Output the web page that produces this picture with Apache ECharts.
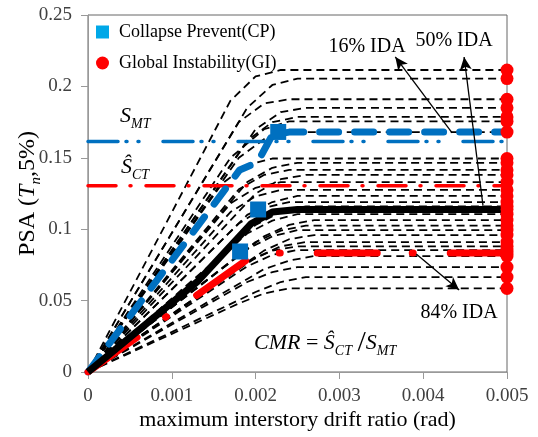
<!DOCTYPE html>
<html lang="en">
<head>
<meta charset="UTF-8" />
<title>IDA curves</title>
<style>html,body{margin:0;padding:0;background:#fff;}</style>
</head>
<body>
<div id="main" style="width:538px;height:437px"></div>
<script src="https://cdn.jsdelivr.net/npm/echarts@6/dist/echarts.min.js"></script>
<script>
var FONT = "'Liberation Serif', 'Times New Roman', serif";

// axis range / ticks
var xMin = 0, xMax = 0.005, xStep = 0.001;
var yMin = 0, yMax = 0.25, yStep = 0.05;

// single-record IDA curves, [drift, PSA] points
var idaCurves = [
  [[0, 0], [0.0017, 0.190], [0.0020, 0.207], [0.0023, 0.2115], [0.005, 0.2115]],
  [[0, 0], [0.0019, 0.185], [0.0022, 0.201], [0.0025, 0.2055], [0.005, 0.2055]],
  [[0, 0], [0.0018, 0.175], [0.0021, 0.188], [0.0024, 0.191], [0.005, 0.191]],
  [[0, 0], [0.0020, 0.170], [0.0023, 0.182], [0.0026, 0.185], [0.005, 0.185]],
  [[0, 0], [0.0019, 0.162], [0.0022, 0.175], [0.0025, 0.1786], [0.005, 0.1786]],
  [[0, 0], [0.0017, 0.150], [0.0021, 0.170], [0.0024, 0.1755], [0.005, 0.1755]],
  [[0, 0], [0.0018, 0.150], [0.0021, 0.163], [0.0024, 0.168], [0.005, 0.168]],
  [[0, 0], [0.0016, 0.132], [0.0019, 0.145], [0.0022, 0.1495], [0.005, 0.1495]],
  [[0, 0], [0.0019, 0.133], [0.0022, 0.143], [0.0025, 0.1465], [0.005, 0.1465]],
  [[0, 0], [0.0018, 0.128], [0.0021, 0.138], [0.0024, 0.1415], [0.005, 0.1415]],
  [[0, 0], [0.0020, 0.125], [0.0023, 0.135], [0.0026, 0.138], [0.005, 0.138]],
  [[0, 0], [0.0017, 0.118], [0.0020, 0.129], [0.0023, 0.133], [0.005, 0.133]],
  [[0, 0], [0.0017, 0.112], [0.0020, 0.123], [0.0023, 0.1275], [0.005, 0.1275]],
  [[0, 0], [0.0019, 0.110], [0.0022, 0.119], [0.0025, 0.1233], [0.005, 0.1233]],
  [[0, 0], [0.0018, 0.104], [0.0021, 0.115], [0.0024, 0.119], [0.005, 0.119]],
  [[0, 0], [0.0020, 0.103], [0.0023, 0.112], [0.0026, 0.116], [0.005, 0.116]],
  [[0, 0], [0.0019, 0.097], [0.0022, 0.106], [0.0025, 0.1105], [0.005, 0.1105]],
  [[0, 0], [0.0021, 0.095], [0.0024, 0.103], [0.0027, 0.1064], [0.005, 0.1064]],
  [[0, 0], [0.0020, 0.091], [0.0023, 0.099], [0.0026, 0.1025], [0.005, 0.1025]],
  [[0, 0], [0.0019, 0.086], [0.0022, 0.095], [0.0025, 0.0994], [0.005, 0.0994]],
  [[0, 0], [0.0021, 0.085], [0.0024, 0.093], [0.0027, 0.0959], [0.005, 0.0959]],
  [[0, 0], [0.0020, 0.080], [0.0023, 0.088], [0.0026, 0.091], [0.005, 0.091]],
  [[0, 0], [0.0019, 0.077], [0.0022, 0.085], [0.0025, 0.088], [0.005, 0.088]],
  [[0, 0], [0.0019, 0.074], [0.0022, 0.082], [0.0025, 0.0854], [0.005, 0.0854]],
  [[0, 0], [0.0021, 0.072], [0.0024, 0.078], [0.0027, 0.0812], [0.005, 0.0812]],
  [[0, 0], [0.0019, 0.063], [0.0022, 0.070], [0.0025, 0.0735], [0.005, 0.0735]],
  [[0, 0], [0.0020, 0.056], [0.0023, 0.063], [0.0026, 0.0665], [0.005, 0.0665]],
  [[0, 0], [0.0018, 0.048], [0.0021, 0.055], [0.0024, 0.0585], [0.005, 0.0585]]
];

// fractile curves
var ida16 = [[0, 0], [0.00181, 0.1415], [0.00197, 0.1455], [0.00207, 0.152], [0.0022, 0.166], [0.0024, 0.168], [0.005, 0.168]];
var ida50 = [[0, 0], [0.0013, 0.063], [0.00195, 0.104], [0.0022, 0.112], [0.0025, 0.1138], [0.005, 0.1138]];
var ida84 = [[0, 0], [0.00193, 0.080], [0.0022, 0.0833], [0.005, 0.0833]];

// Collapse Prevent points (squares)
var cpPoints = [[0.00227, 0.1681], [0.00203, 0.1138], [0.001815, 0.0844]];

// Global Instability points (dots on the right edge)
var giDrift = 0.005;
var giLevels = [0.2115, 0.2055, 0.191, 0.185, 0.1786, 0.1755, 0.168, 0.1495, 0.1465, 0.1415, 0.138, 0.133,
  0.1275, 0.1233, 0.119, 0.1138, 0.116, 0.1105, 0.1064, 0.1025, 0.0994, 0.0959, 0.091, 0.088, 0.0854,
  0.0833, 0.0812, 0.0735, 0.0665, 0.0585];

// S_MT and median collapse capacity
var sMT = 0.1615;
var sCT = 0.1305;

// annotation arrows [from, to]
var arrows = [
  [[0.004345, 0.1674], [0.003667, 0.2206]],
  [[0.004714, 0.1163], [0.004488, 0.2206]],
  [[0.003917, 0.0826], [0.004429, 0.0574]]
];

var chart = echarts.init(document.getElementById("main"));

var series = [];
idaCurves.forEach(function (c) {
  series.push({
    type: "line",
    data: c,
    showSymbol: false,
    silent: true,
    lineStyle: { color: "#000", width: 1.8, type: [8, 5] },
    z: 2
  });
});

series.push({
  type: "line",
  data: [[xMin, sMT], [xMax, sMT]],
  showSymbol: false,
  silent: true,
  lineStyle: { color: "#0070C0", width: 3.5, type: [30, 8, 1, 11, 1, 24], cap: "round" },
  z: 3
});
series.push({
  type: "line",
  data: [[xMin, sCT], [xMax, sCT]],
  showSymbol: false,
  silent: true,
  lineStyle: { color: "#FF0000", width: 3.5, type: [28, 14, 1, 15], cap: "round" },
  z: 3
});

series.push({
  type: "line",
  data: ida16,
  showSymbol: false,
  silent: true,
  lineStyle: { color: "#0070C0", width: 7, type: [19, 16], cap: "round" },
  z: 4
});
series.push({
  type: "line",
  data: ida84,
  showSymbol: false,
  silent: true,
  lineStyle: { color: "#FF0000", width: 7, type: [60, 35, 1, 37], cap: "round" },
  z: 4
});
series.push({
  type: "line",
  data: ida50,
  showSymbol: false,
  silent: true,
  lineStyle: { color: "#000", width: 7 },
  z: 4,
  markLine: {
    silent: true,
    symbol: ["none", "arrow"],
    symbolSize: [9, 13],
    label: { show: false },
    lineStyle: { color: "#000", width: 1.3, type: "solid" },
    data: arrows.map(function (a) {
      return [{ coord: a[0] }, { coord: a[1] }];
    })
  }
});

series.push({
  name: "Collapse Prevent(CP)",
  type: "scatter",
  data: cpPoints,
  symbol: "rect",
  symbolSize: 16,
  itemStyle: { color: "#0070C0", opacity: 1 },
  z: 6
});
series.push({
  name: "Global Instability(GI)",
  type: "scatter",
  data: giLevels.map(function (v) { return [giDrift, v]; }),
  symbol: "circle",
  symbolSize: 13,
  itemStyle: { color: "#FF0000", opacity: 1 },
  clip: false,
  z: 6
});

var sub = { fontSize: 14, fontStyle: "italic", fontFamily: FONT, color: "#000", lineHeight: 14, verticalAlign: "bottom" };
var ital = { fontSize: 22, fontStyle: "italic", fontFamily: FONT, color: "#000", lineHeight: 30 };

chart.setOption({
  animation: false,
  backgroundColor: "#fff",
  grid: {
    left: 88, right: 31, top: 15, bottom: 65,
    containLabel: false, outerBoundsMode: "none",
    show: true, borderColor: "#666", borderWidth: 1
  },
  legend: {
    orient: "vertical",
    left: 91,
    top: 18,
    itemGap: 13,
    itemWidth: 13,
    itemHeight: 13,
    textStyle: { fontSize: 18, fontFamily: FONT, color: "#000", padding: [0, 0, 0, 5] },
    data: [
      { name: "Collapse Prevent(CP)", icon: "rect", itemStyle: { color: "#00A8E8", opacity: 1 } },
      { name: "Global Instability(GI)", icon: "circle", itemStyle: { color: "#FF0000", opacity: 1 } }
    ]
  },
  xAxis: {
    type: "value",
    min: xMin,
    max: xMax,
    interval: xStep,
    name: "maximum interstory drift ratio (rad)",
    nameLocation: "middle",
    nameGap: 37,
    nameMoveOverlap: false,
    nameTextStyle: { fontSize: 22, fontFamily: FONT, color: "#000" },
    axisLine: { lineStyle: { color: "#999" } },
    axisTick: { show: true, length: 7, lineStyle: { color: "#999" } },
    axisLabel: { fontSize: 19, fontFamily: FONT, color: "#404040", margin: 15 },
    splitLine: { show: false }
  },
  yAxis: {
    type: "value",
    min: yMin,
    max: yMax,
    interval: yStep,
    name: "{a|PSA (}{i|T}{s|n}{a|,5%)}",
    nameLocation: "middle",
    nameGap: 44,
    nameMoveOverlap: false,
    nameTextStyle: {
      fontSize: 24,
      fontFamily: FONT,
      color: "#000",
      rich: {
        a: { fontSize: 24, fontFamily: FONT, color: "#000", lineHeight: 32 },
        i: { fontSize: 24, fontStyle: "italic", fontFamily: FONT, color: "#000", lineHeight: 32 },
        s: { fontSize: 15, fontStyle: "italic", fontFamily: FONT, color: "#000", lineHeight: 15, verticalAlign: "bottom" }
      }
    },
    axisLine: { show: true, lineStyle: { color: "#999" } },
    axisTick: { show: true, length: 7, lineStyle: { color: "#999" } },
    axisLabel: { fontSize: 19, fontFamily: FONT, color: "#404040", margin: 16 },
    splitLine: { show: false }
  },
  graphic: [
    { type: "text", x: 367, y: 47, silent: true, style: { text: "16% IDA", font: "20px " + FONT, fill: "#000", align: "center", verticalAlign: "middle" } },
    { type: "text", x: 454, y: 41, silent: true, style: { text: "50% IDA", font: "20px " + FONT, fill: "#000", align: "center", verticalAlign: "middle" } },
    { type: "text", x: 459, y: 313, silent: true, style: { text: "84% IDA", font: "20px " + FONT, fill: "#000", align: "center", verticalAlign: "middle" } },
    { type: "text", x: 120, y: 116, silent: true, z: 10,
      style: { text: "{i|S}{s|MT}", rich: { i: ital, s: sub }, align: "left", verticalAlign: "middle" } },
    { type: "text", x: 121, y: 167, silent: true, z: 10,
      style: { text: "{i|Ŝ}{s|CT}", rich: { i: ital, s: sub }, align: "left", verticalAlign: "middle" } },
    { type: "text", x: 254, y: 343, silent: true, z: 10,
      style: {
        text: "{i|CMR}{n| = }{i|Ŝ}{s|CT}{n| }{sl|/}{i|S}{s|MT}",
        rich: {
          i: ital,
          s: sub,
          n: { fontSize: 22, fontFamily: FONT, color: "#000", lineHeight: 30 },
          sl: { fontSize: 30, fontFamily: FONT, color: "#000", lineHeight: 30 }
        },
        align: "left",
        verticalAlign: "middle"
      } }
  ],
  series: series
});
</script>
</body>
</html>
